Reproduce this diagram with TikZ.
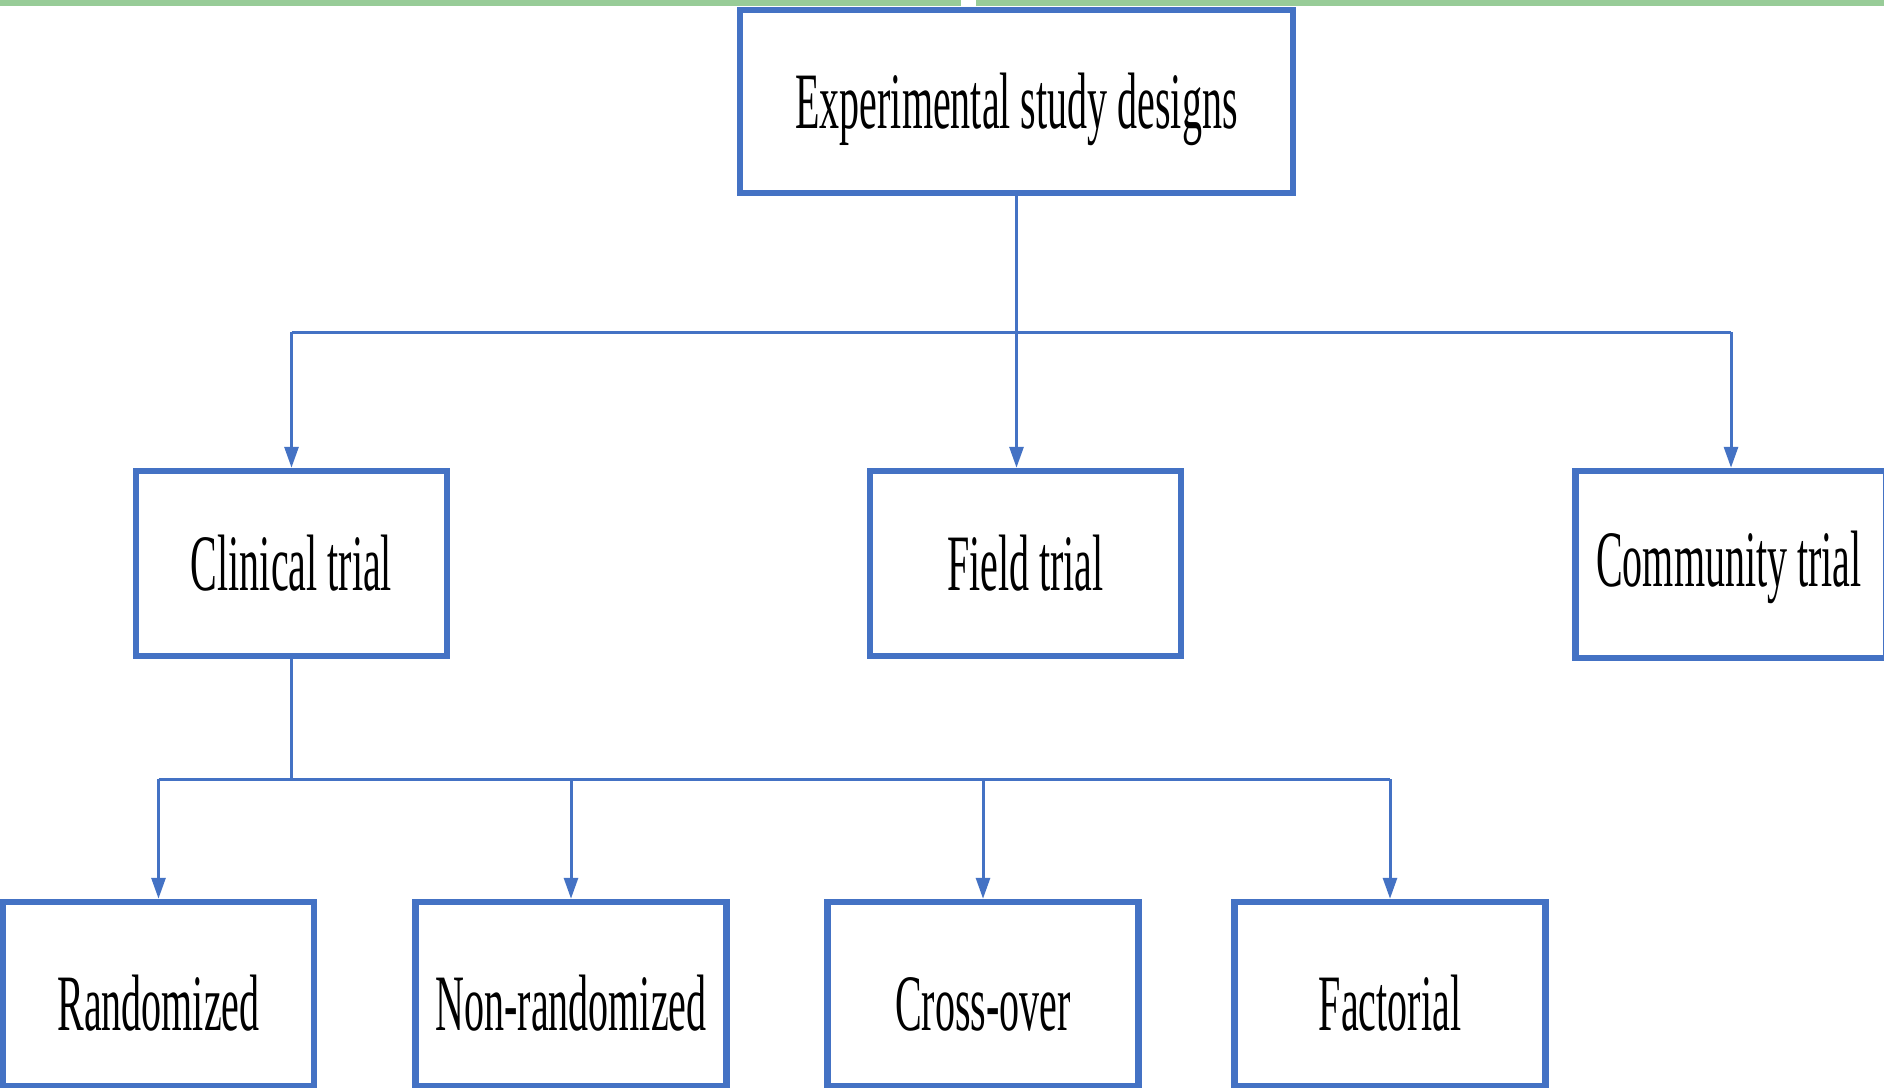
\documentclass[tikz,border=0pt]{standalone}
\usepackage{fontspec}
\setmainfont{Liberation Serif}[FakeStretch=0.5]
\usetikzlibrary{arrows.meta}
\definecolor{boxblue}{RGB}{68,114,196}
\definecolor{bargreen}{RGB}{152,204,152}
\begin{document}
\begin{tikzpicture}[x=1pt,y=-1pt,
  box/.style={draw=boxblue, line width=6.5pt, fill=white, minimum width=311pt,
    minimum height=185pt, inner sep=0pt, font=\fontsize{80}{90}\selectfont,
    text height=53pt, text depth=0pt},
  lowbox/.style={box, minimum height=184pt, text height=72pt},
  link/.style={draw=boxblue, line width=3pt},
  arr/.style={link, -{Triangle[length=21pt,width=14pt]}}]
\useasboundingbox (0,0) rectangle (1884,1087);
\clip (0,0) rectangle (1884,1087);
\fill[white] (0,0) rectangle (1884,1087);
% thin coloured band along the top edge
\fill[bargreen] (0,0) rectangle (961,5.5);
\fill[bargreen] (976,0) rectangle (1884,5.5);

% boxes
\node[box, minimum width=553pt, minimum height=183pt] (top) at (1016.5,101.5) {Experimental study designs};
\node[box] (clin) at (291.5,563.5) {Clinical trial};
\node[box] (field) at (1025.5,563.5) {Field trial};
\node[box, minimum height=187pt, text height=43pt] (comm) at (1731,564.5) {\hspace*{-4pt}Community trial};
\node[lowbox] (rand) at (158.5,994) {Randomized};
\node[lowbox] (nonr) at (571,994) {Non-randomized};
\node[lowbox] (cross) at (983,994) {Cross-over};
\node[lowbox] (fact) at (1390,994) {Factorial};

% branch levels
\coordinate (bus) at (0,332);
\coordinate (bus2) at (0,779);

% first level
\draw[arr] (top.south) -- (top.south |- field.north);
\draw[link] (clin.north |- bus) -- (comm.north |- bus);
\draw[arr] (clin.north |- bus) -- (clin.north);
\draw[arr] (comm.north |- bus) -- (comm.north);

% second level
\draw[link] (clin.south) -- (clin.south |- bus2);
\draw[link] (rand.north |- bus2) -- (fact.north |- bus2);
\draw[arr] (rand.north |- bus2) -- (rand.north);
\draw[arr] (nonr.north |- bus2) -- (nonr.north);
\draw[arr] (cross.north |- bus2) -- (cross.north);
\draw[arr] (fact.north |- bus2) -- (fact.north);
\end{tikzpicture}
\end{document}
